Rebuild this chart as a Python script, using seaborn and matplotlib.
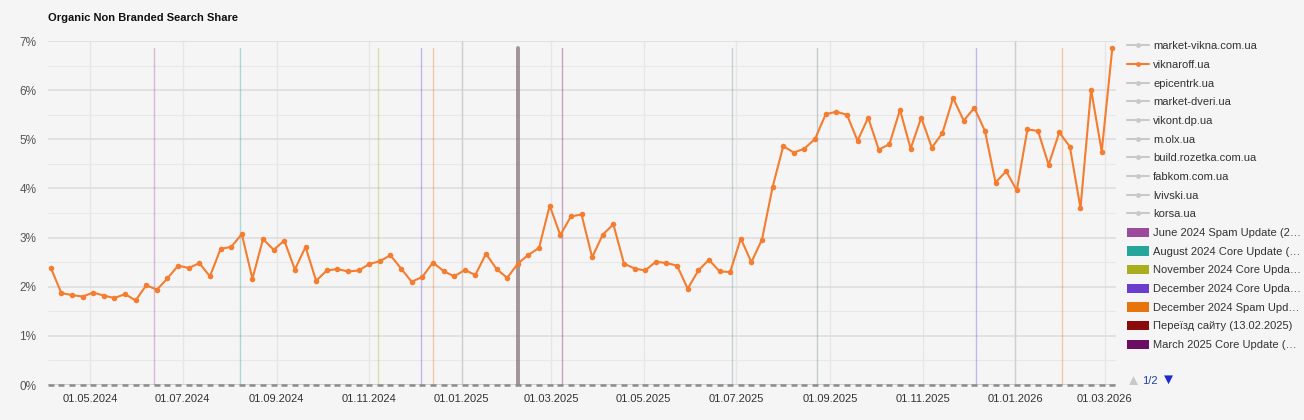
import matplotlib
matplotlib.use("Agg")
import matplotlib.pyplot as plt
from matplotlib.lines import Line2D
from matplotlib.patches import Patch
from matplotlib.ticker import MultipleLocator, FixedLocator
import numpy as np
import pandas as pd
import seaborn as sns

# --- data ---
first_week = "2024-04-05"

# weekly organic non-branded search share of viknaroff.ua, in %
viknaroff = [
    2.39, 1.87, 1.83, 1.80, 1.88, 1.82, 1.77, 1.85, 1.72, 2.03,
    1.94, 2.17, 2.43, 2.38, 2.48, 2.21, 2.77, 2.81, 3.07, 2.16,
    2.97, 2.75, 2.94, 2.35, 2.81, 2.12, 2.33, 2.36, 2.31, 2.33,
    2.46, 2.52, 2.64, 2.37, 2.10, 2.20, 2.49, 2.32, 2.21, 2.34,
    2.24, 2.67, 2.36, 2.18, 2.47, 2.65, 2.79, 3.65, 3.05, 3.43,
    3.47, 2.60, 3.06, 3.27, 2.47, 2.37, 2.33, 2.51, 2.48, 2.43,
    1.96, 2.33, 2.55, 2.31, 2.30, 2.98, 2.50, 2.96, 4.03, 4.86,
    4.73, 4.81, 5.01, 5.51, 5.56, 5.50, 4.97, 5.44, 4.79, 4.90,
    5.60, 4.81, 5.44, 4.83, 5.13, 5.84, 5.38, 5.64, 5.17, 4.12,
    4.35, 3.96, 5.20, 5.17, 4.48, 5.14, 4.85, 3.60, 6.01, 4.75,
    6.86,
]

sites = [
    "market-vikna.com.ua", "viknaroff.ua", "epicentrk.ua", "market-dveri.ua",
    "vikont.dp.ua", "m.olx.ua", "build.rozetka.com.ua", "fabkom.com.ua",
    "lvivski.ua", "korsa.ua",
]
focus_site = "viknaroff.ua"

# Google updates / site events (first 7 are on legend page 1)
event_labels = [
    "June 2024 Spam Update (2…",
    "August 2024 Core Update (…",
    "November 2024 Core Upda…",
    "December 2024 Core Upda…",
    "December 2024 Spam Upd…",
    "Переїзд сайту (13.02.2025)",
    "March 2025 Core Update (…",
    "June 2025 Core Update",
    "August 2025 Spam Update",
    "December 2025 Core Update",
    "February 2026 Update",
]
event_dates = [
    "2024-06-12", "2024-08-08", "2024-11-07", "2024-12-05", "2024-12-13",
    "2025-02-07", "2025-03-08", "2025-06-28", "2025-08-23", "2025-12-06",
    "2026-02-01",
]
event_colors = [
    "#9c4a9c", "#26a69a", "#a9ae1e", "#6a3dcf", "#e8740c",
    "#8b0a0a", "#6b0f63", "#5a9a94", "#607d8b", "#5c4fd0",
    "#e8740c",
]
legend_events = 7

tick_dates = [
    "2024-05-01", "2024-07-01", "2024-09-01", "2024-11-01", "2025-01-01",
    "2025-03-01", "2025-05-01", "2025-07-01", "2025-09-01", "2025-11-01",
    "2026-01-01", "2026-03-01",
]

# --- styling ---
BG = "#f5f5f5"
ORANGE = "#f47d30"
GREY_SITE = "#c9c9c9"
TEXT = "#333333"

sns.set_theme(style="white")
plt.rcParams["font.family"] = ["Liberation Sans", "DejaVu Sans"]

W, H = 1304, 420
fig = plt.figure(figsize=(W / 100, H / 100), dpi=100, facecolor=BG)
ax = fig.add_axes([48 / W, 35 / H, (1116 - 48) / W, 344 / H])
ax.set_facecolor(BG)

dates = pd.date_range(first_week, periods=len(viknaroff), freq="7D")
df = pd.DataFrame({"date": dates, "share": viknaroff})

# event lines (the site move is drawn thicker and darker)
for d, c, lab in zip(event_dates, event_colors, event_labels):
    if lab.startswith("Переїзд"):
        ax.axvline(pd.Timestamp(d), ymax=0.98, color="#7d6c73", lw=2.8,
                   alpha=0.7, zorder=2)
    else:
        ax.axvline(pd.Timestamp(d), ymax=0.98, color=c, lw=1.0,
                   alpha=0.35, zorder=2)

# baseline with the hidden series sitting at 0
ax.axhline(0, color="#8c8c8c", lw=1.0, zorder=3)
ax.plot(dates, np.zeros(len(dates)), ls="none", marker="_", ms=5, mew=1.8,
        color="#8c8c8c", clip_on=False, zorder=3)

sns.lineplot(data=df, x="date", y="share", color=ORANGE, lw=1.5,
             marker="o", markersize=4, markeredgewidth=0, ax=ax, zorder=5)

# axes
ax.set_ylim(0, 7)
ax.set_xlim(pd.Timestamp("2024-04-03 05:00"), pd.Timestamp("2026-03-08 10:00"))
ax.yaxis.set_major_locator(MultipleLocator(1))
ax.yaxis.set_minor_locator(MultipleLocator(0.5))
ax.set_yticklabels([f"{int(v)}%" for v in ax.get_yticks()])
ticks = pd.to_datetime(tick_dates)
ax.xaxis.set_major_locator(FixedLocator(matplotlib.dates.date2num(ticks)))
ax.set_xticklabels([t.strftime("%d.%m.%Y") for t in ticks])
ax.tick_params(axis="y", length=0, pad=8.5, labelsize=8.5, labelcolor="#555555")
ax.tick_params(axis="x", length=0, pad=6.5, labelsize=8, labelcolor=TEXT)
ax.grid(axis="y", which="major", color="#dcdcdc", lw=1.1)
ax.grid(axis="y", which="minor", color="#e8e8e8", lw=0.8)
ax.grid(axis="x", which="major", color="#e6e6e6", lw=1.0)
for t in ["2025-01-01", "2026-01-01"]:
    ax.axvline(pd.Timestamp(t), color="#cfcfcf", lw=1.0, zorder=1)
ax.set_xlabel("")
ax.set_ylabel("")
sns.despine(ax=ax, left=True, bottom=True)
ax.set_axisbelow(True)

fig.text(48 / W, 1 - 18 / H, "Organic Non Branded Search Share",
         fontsize=8, fontweight="bold", color="#111111", va="center")

# legend (page 1 of 2)
handles = []
for s in sites:
    c = ORANGE if s == focus_site else GREY_SITE
    handles.append(Line2D([], [], color=c, lw=1.5, marker="o", ms=3.5,
                          markeredgewidth=0, label=s))
for lab, c in zip(event_labels[:legend_events], event_colors[:legend_events]):
    handles.append(Patch(facecolor=c, edgecolor="none", label=lab))
leg = ax.legend(handles=handles, loc="upper left",
                bbox_to_anchor=(1127 / W, 1 - 41 / H), bbox_transform=fig.transFigure,
                frameon=False, fontsize=8, labelspacing=0.74, handlelength=2.0,
                handleheight=0.9, handletextpad=0.35, borderpad=0, borderaxespad=0)
for t in leg.get_texts():
    t.set_color(TEXT)

fig.text(1133 / W, 1 - 381 / H, "▲", fontsize=11, color="#c8c8c8", ha="center", va="center")
fig.text(1150 / W, 1 - 381 / H, "1/2", fontsize=8, color="#2040a0", ha="center", va="center")
fig.text(1168 / W, 1 - 380 / H, "▼", fontsize=11, color="#1a2ad0", ha="center", va="center")

fig.savefig("out.png", dpi=100, facecolor=BG)
